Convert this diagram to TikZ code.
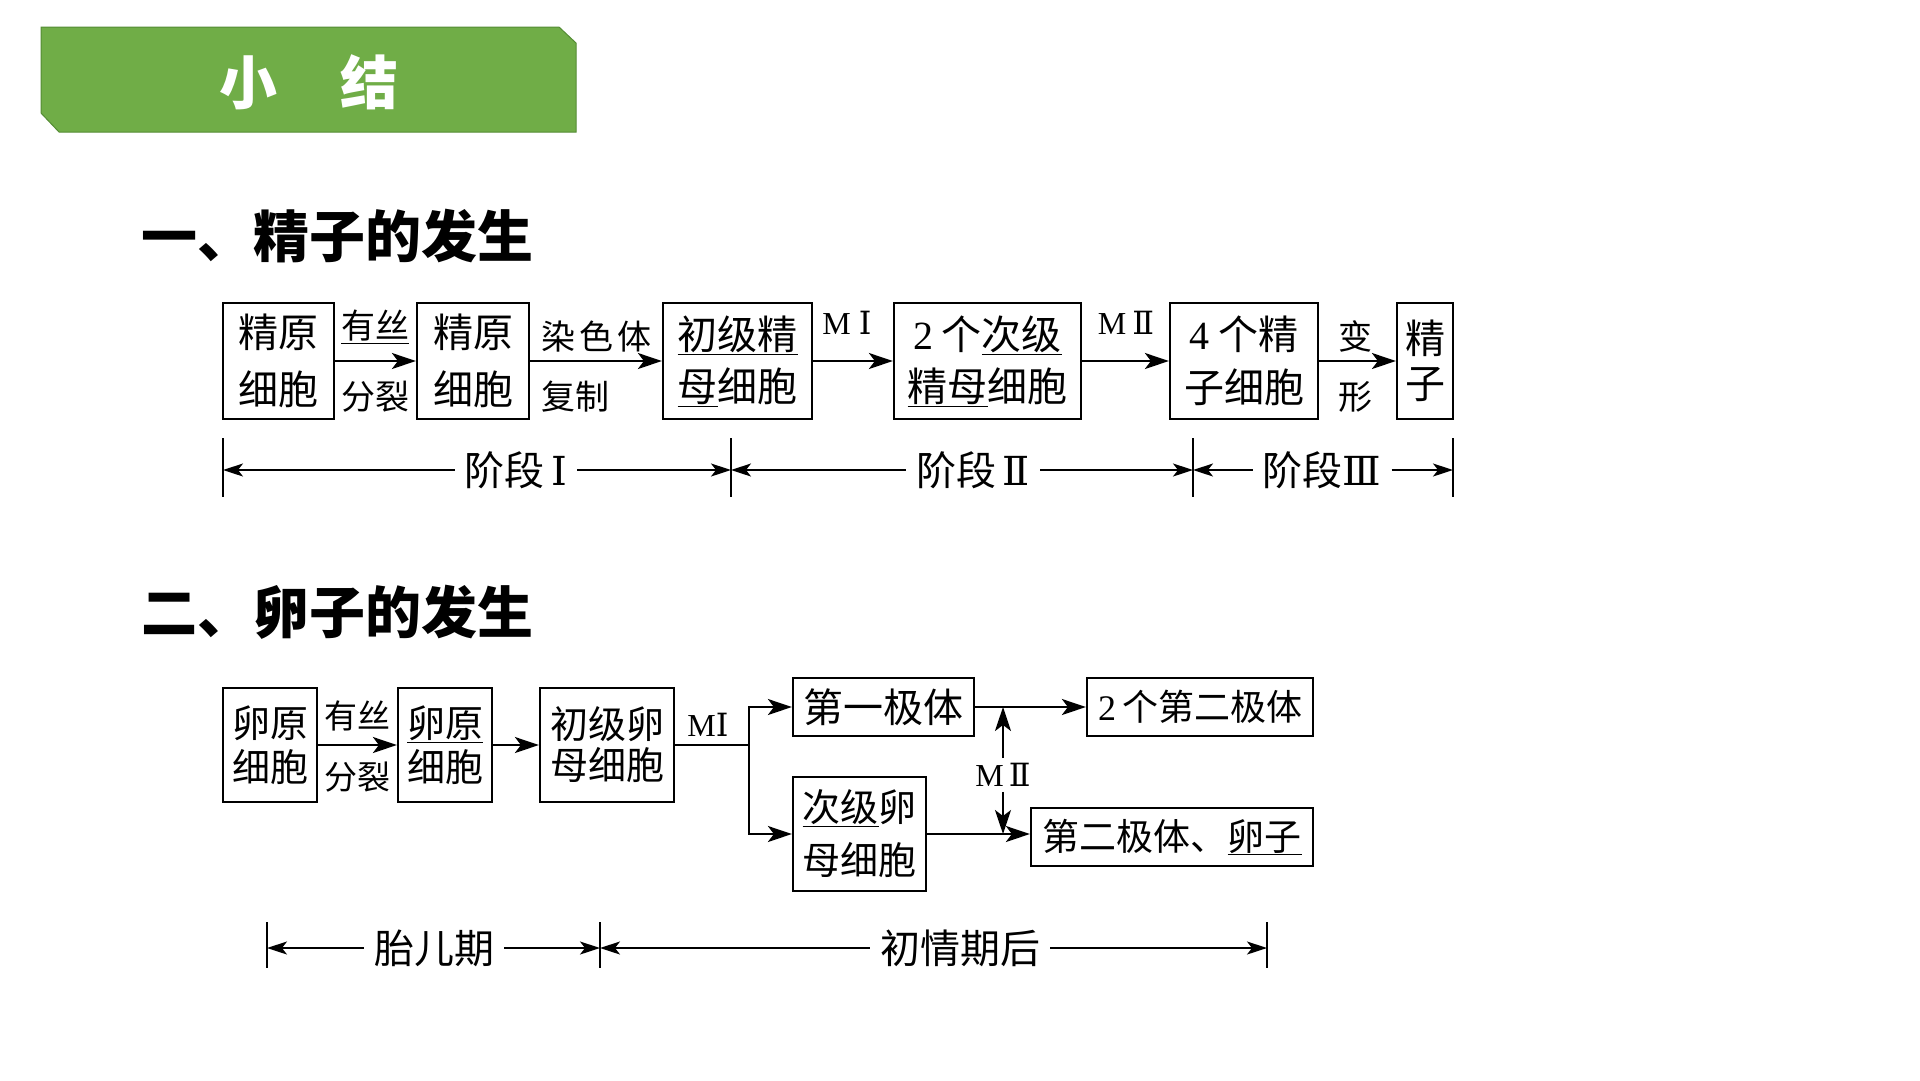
\documentclass[tikz,border=0pt]{standalone}
\usepackage{fontspec}
\setmainfont{Noto Sans CJK SC}
\newfontfamily\lat{Liberation Serif}
\newfontfamily\romn{DejaVu Serif}
\usetikzlibrary{arrows.meta,calc}
\newcommand\fs[2]{\fontsize{#1}{#2}\selectfont}
\newcommand\rn[1]{{\romn #1}}
\definecolor{bannergreen}{RGB}{112,173,71}
\definecolor{bannerdark}{RGB}{84,140,52}
\begin{document}
\begin{tikzpicture}[x=1pt,y=-1pt,
  box/.style={draw=black, line width=2.2pt, inner sep=0pt, align=center},
  arr/.style={-{Stealth[length=24pt,width=16pt,inset=6pt]}, line width=2pt},
  darr/.style={-{Stealth[length=20pt,width=13pt,inset=5pt]}, line width=1.6pt},
  tickline/.style={line width=1.6pt},
  lbl/.style={inner sep=0pt},
  stg/.style={inner xsep=10pt, inner ysep=0pt, font={\fs{40}{44}}},
  small/.style={lbl, font={\fs{34}{36}}},
  roman/.style={lbl, font={\fs{32}{34}}},
]
\useasboundingbox (0,0) rectangle (1920,1080);
\fill[white] (0,0) rectangle (1920,1080);

% banner
\filldraw[fill=bannergreen, draw=bannerdark, line width=1pt]
  (41,27) -- (559,27) -- (576,43) -- (576,132) -- (59,132) -- (41,113) -- cycle;
\node[text=white, font={\bfseries\fs{58}{60}}, inner sep=0pt] (title) at (309,82) {小\hspace{64pt}结};

% headings
\node[anchor=west, inner sep=0pt, font={\bfseries\fs{56}{60}}] (h1) at (141,236) {一、精子的发生};
\node[anchor=west, inner sep=0pt, font={\bfseries\fs{56}{60}}] (h2) at (141,612) {二、卵子的发生};

% ---------- diagram 1 ----------
\node[box, minimum width=111pt, minimum height=116pt, font={\fs{40}{57}}] (b1) at (278.5,361) {精原\\细胞};
\node[box, minimum width=112pt, minimum height=116pt, font={\fs{40}{57}}] (b2) at (473,361) {精原\\细胞};
\node[box, minimum width=149pt, minimum height=116pt, font={\fs{40}{52}}] (b3) at (737.5,361) {\underline{初级精}\\\underline{母}细胞};
\node[box, minimum width=187pt, minimum height=116pt, font={\fs{40}{52}}] (b4) at (987.5,361) {{\lat 2} 个\underline{次级}\\\underline{精母}细胞};
\node[box, minimum width=148pt, minimum height=116pt, font={\fs{40}{53}}] (b5) at (1244,361) {{\lat 4} 个精\\子细胞};
\node[box, minimum width=56pt, minimum height=116pt, font={\fs{40}{45}}] (b6) at (1425,361) {精\\子};

\draw[arr] (b1.east) -- (b2.west);
\draw[arr] (b2.east) -- (b3.west);
\draw[arr] (b3.east) -- (b4.west);
\draw[arr] (b4.east) -- (b5.west);
\draw[arr] (b5.east) -- (b6.west);

\node[small] (t1) at (375,327) {\underline{有丝}};
\node[small] (t2) at (375,397) {分裂};
\node[small, anchor=west] (t3) at (541,337) {染\hspace{4pt}色\hspace{4pt}体};
\node[small, anchor=west] (t4) at (541,397) {复制};
\node[roman] (t5) at (847,323) {{\lat M}\hspace{8pt}\rn{Ⅰ}};
\node[roman] (t6) at (1126,323) {{\lat M}\hspace{6pt}\rn{Ⅱ}};
\node[small] (t7) at (1355,336) {变};
\node[small] (t8) at (1355,397) {形};

% stage line
\coordinate (s0) at (223,470);
\coordinate (s1) at (731,470);
\coordinate (s2) at (1193,470);
\coordinate (s3) at (1453,470);
\foreach \c in {s0,s1,s2,s3} \draw[tickline] (\c) ++(0,-32) -- ++(0,59);
\node[stg] (p1) at (516,470) {阶段\,\rn{Ⅰ}};
\node[stg] (p2) at (973,470) {阶段\,\rn{Ⅱ}};
\node[stg] (p3) at (1322,470) {阶段\rn{Ⅲ}};
\draw[darr] (p1.west) -- (s0);
\draw[darr] (p1.east) -- (s1);
\draw[darr] (p2.west) -- (s1);
\draw[darr] (p2.east) -- (s2);
\draw[darr] (p3.west) -- (s2);
\draw[darr] (p3.east) -- (s3);

% ---------- diagram 2 ----------
\node[box, minimum width=94pt, minimum height=114pt, font={\fs{38}{44}}] (c1) at (270,745) {卵原\\细胞};
\node[box, minimum width=94pt, minimum height=114pt, font={\fs{38}{44}}] (c2) at (445,745) {\underline{卵原}\\细胞};
\node[box, minimum width=134pt, minimum height=114pt, font={\fs{38}{41}}] (c3) at (607,745) {初级卵\\母细胞};
\node[box, minimum width=181pt, minimum height=58pt, font={\fs{40}{44}}] (c4) at (883.5,707) {第一极体};
\node[box, minimum width=133pt, minimum height=114pt, font={\fs{38}{53}}] (c5) at (859.5,834) {\underline{次级}卵\\母细胞};
\node[box, minimum width=226pt, minimum height=58pt, font={\fs{36}{44}}] (c6) at (1200,707) {{\lat 2}\,个第二极体};
\node[box, minimum width=282pt, minimum height=58pt, font={\fs{37}{44}}] (c7) at (1172,837) {第二极体、\underline{卵子}};

\draw[arr] (c1.east) -- (c2.west);
\draw[arr] (c2.east) -- (c3.west);
\coordinate (br) at (749,745);
\draw[line width=2pt] (c3.east) -- (br);
\draw[arr] (br) |- (c4.west);
\draw[arr] (br) |- (c5.west);
\draw[arr] (c4.east) -- (c6.west);
\draw[arr] (c5.east) -- (c5.east -| c7.west);

\node[small, font={\fs{33}{36}}] (u1) at (357,716) {有丝};
\node[small, font={\fs{33}{36}}] (u2) at (357,777) {分裂};
\node[roman] (u3) at (708,725) {{\lat M}\rn{Ⅰ}};
\node[roman, inner ysep=5pt] (mii) at (1003,775) {{\lat M}\hspace{5pt}\rn{Ⅱ}};
\draw[arr] (mii.north) -- (mii.north |- c4.east);
\draw[arr] (mii.south) -- (mii.south |- c5.east);

% period line
\coordinate (q0) at (267,948);
\coordinate (q1) at (600,948);
\coordinate (q2) at (1267,948);
\foreach \c in {q0,q1,q2} \draw[tickline] (\c) ++(0,-26) -- ++(0,46);
\node[stg] (r1) at (434,948) {胎儿期};
\node[stg] (r2) at (960,948) {初情期后};
\draw[darr] (r1.west) -- (q0);
\draw[darr] (r1.east) -- (q1);
\draw[darr] (r2.west) -- (q1);
\draw[darr] (r2.east) -- (q2);
\end{tikzpicture}
\end{document}
